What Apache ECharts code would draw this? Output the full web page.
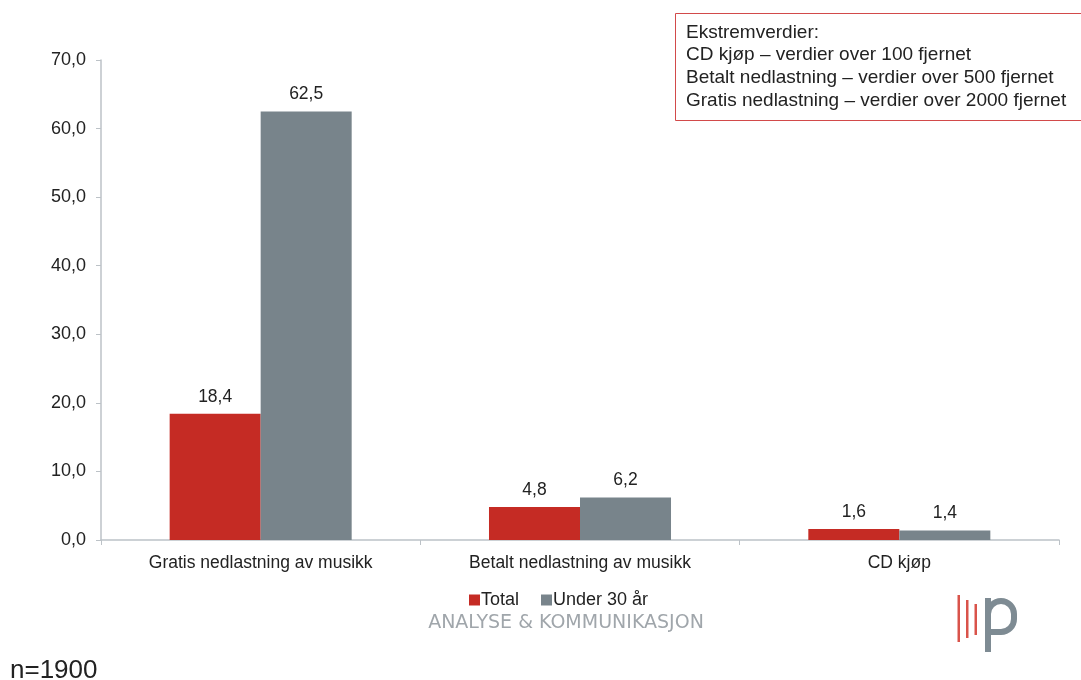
<!DOCTYPE html>
<html><head><meta charset="utf-8">
<script src="https://cdn.jsdelivr.net/npm/echarts@6/dist/echarts.min.js"></script>
<style>html,body{margin:0;padding:0;background:#fff}#c{width:1081px;height:680px}</style>
</head><body><div id="c"></div>
<script>
const categories = ['Gratis nedlastning av musikk', 'Betalt nedlastning av musikk', 'CD kjøp'];
const totalValues = [18.4, 4.8, 1.6];
const under30Values = [62.5, 6.2, 1.4];
const seriesNames = ['Total', 'Under 30 år'];
const noteLines = ['Ekstremverdier:', 'CD kjøp – verdier over 100 fjernet', 'Betalt nedlastning – verdier over 500 fjernet', 'Gratis nedlastning – verdier over 2000 fjernet'];

const FONT = '"Liberation Sans", Arial, sans-serif';
const fmt = v => v.toFixed(1).replace('.', ',');
const chart = echarts.init(document.getElementById('c'), null, {renderer: 'canvas'});
const labelCfg = {show: true, position: 'top', distance: 8, color: '#222', fontFamily: FONT, fontSize: 17.5, formatter: p => fmt(p.value)};
const LOGO_GRAY = '#7E8B93', LOGO_RED = '#D9534A';
chart.setOption({
  animation: false,
  backgroundColor: '#fff',
  grid: {left: 101, right: 22, top: 60, bottom: 140, containLabel: false},
  legend: {
    data: seriesNames, left: 464, top: 586, itemWidth: 11, itemHeight: 11, itemGap: 22,
    icon: 'rect', textStyle: {fontFamily: FONT, fontSize: 18, color: '#222', padding: [0,0,0,-4]},
    selectedMode: false
  },
  xAxis: {
    type: 'category', data: categories,
    axisLine: {lineStyle: {color: '#BCC2C7', width: 1.5}},
    axisTick: {show: true, length: 5, lineStyle: {color: '#BCC2C7'}},
    axisLabel: {color: '#222', fontFamily: FONT, fontSize: 17.5, margin: 14}
  },
  yAxis: {
    type: 'value', min: 0, max: 70, interval: 10,
    axisLine: {show: true, lineStyle: {color: '#BCC2C7', width: 1.5}},
    axisTick: {show: true, length: 5, lineStyle: {color: '#BCC2C7'}},
    splitLine: {show: false},
    axisLabel: {color: '#222', fontFamily: FONT, fontSize: 18, margin: 15, formatter: v => fmt(v)}
  },
  series: [
    {name: seriesNames[0], type: 'bar', data: totalValues, barWidth: '28.5%', barGap: '0%', itemStyle: {color: '#C52B24'}, label: labelCfg},
    {name: seriesNames[1], type: 'bar', data: under30Values, barWidth: '28.5%', itemStyle: {color: '#78848B'}, label: labelCfg}
  ],
  graphic: [
    {type: 'rect', shape: {x: 675.5, y: 13.5, width: 420, height: 107}, style: {fill: '#fff', stroke: '#D24A4A', lineWidth: 1}},
    {type: 'text', left: 686, top: 21, style: {text: noteLines.join('\n'), fontFamily: FONT, fontSize: 19, lineHeight: 22.7, fill: '#222'}},
    {type: 'text', x: 566, y: 623, style: {text: 'ANALYSE & KOMMUNIKASJON', fontFamily: '"DejaVu Sans", sans-serif', fontSize: 19, fill: '#A0A6AB', align: 'center', verticalAlign: 'middle'}},
    {type: 'rect', shape: {x: 957.5, y: 595, width: 2.5, height: 47}, style: {fill: LOGO_RED}},
    {type: 'rect', shape: {x: 966, y: 600, width: 2.5, height: 38}, style: {fill: LOGO_RED}},
    {type: 'rect', shape: {x: 974.5, y: 604, width: 2.5, height: 31}, style: {fill: LOGO_RED}},
    {type: 'rect', shape: {x: 988, y: 601, width: 26, height: 31, r: [13, 13, 13, 0]}, style: {fill: 'none', stroke: LOGO_GRAY, lineWidth: 6}},
    {type: 'rect', shape: {x: 985, y: 598, width: 6, height: 54}, style: {fill: LOGO_GRAY}},
    {type: 'text', left: 10, top: 658, style: {text: 'n=1900', fontFamily: FONT, fontSize: 26, fill: '#222'}}
  ]
});
</script></body></html>
